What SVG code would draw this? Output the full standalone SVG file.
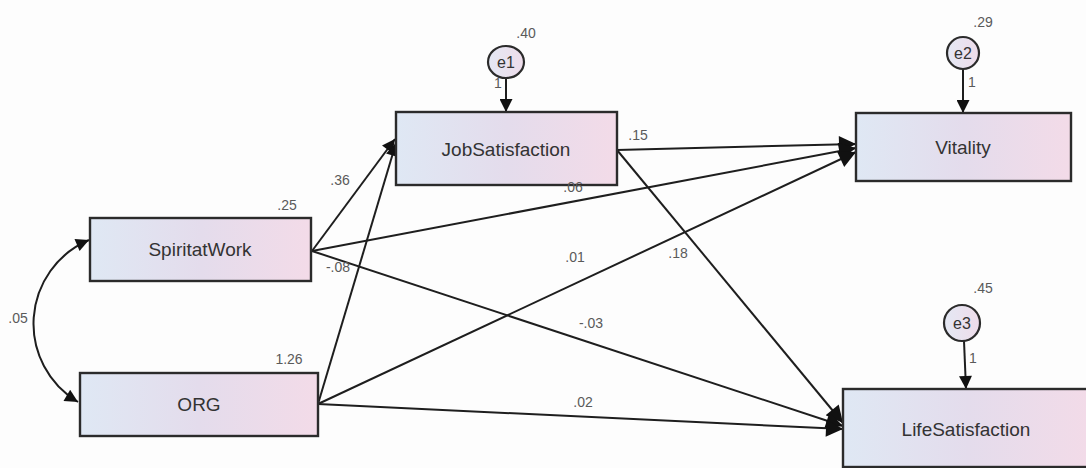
<svg xmlns="http://www.w3.org/2000/svg" width="1086" height="468" viewBox="0 0 1086 468">
  <style>
    .box { stroke: #2b2b2b; stroke-width: 2.4; fill: url(#boxFill); }
    .err { stroke: #2b2b2b; stroke-width: 2.2; fill: url(#errFill); }
    .name { font-family: "Liberation Sans", Arial, sans-serif; font-size: 19px; fill: #333; text-anchor: middle; }
    .ename { font-family: "Liberation Sans", Arial, sans-serif; font-size: 16px; fill: #333; text-anchor: middle; }
    .num { font-family: "Liberation Sans", Arial, sans-serif; font-size: 14px; fill: #5a5a5a; text-anchor: middle; }
    .edge { stroke: #1e1e1e; stroke-width: 2; fill: none; }
    .path { marker-end: url(#head); }
    .small { marker-end: url(#headSmall); }
  </style>
  <defs>
    <linearGradient id="boxFill" x1="0" y1="0" x2="1" y2="0">
      <stop offset="0" stop-color="#dfe8f4"/>
      <stop offset="0.5" stop-color="#e4dcec"/>
      <stop offset="1" stop-color="#f3dbe8"/>
    </linearGradient>
    <linearGradient id="errFill" x1="0" y1="0" x2="1" y2="0">
      <stop offset="0" stop-color="#e4e8f4"/>
      <stop offset="1" stop-color="#eedcea"/>
    </linearGradient>
    <marker id="head" viewBox="0 0 10 10" refX="10" refY="5" markerWidth="24" markerHeight="17" markerUnits="userSpaceOnUse" orient="auto">
      <path d="M0,0 L10,5 L0,10 z" fill="#111"/>
    </marker>
    <marker id="headSmall" viewBox="0 0 10 10" refX="10" refY="5" markerWidth="19" markerHeight="13" markerUnits="userSpaceOnUse" orient="auto-start-reverse">
      <path d="M0,0 L10,5 L0,10 z" fill="#111"/>
    </marker>
  </defs>

  <rect width="1086" height="468" fill="#fdfdfd"/>

  <!-- paths and covariance -->
  <g id="connectors">
    <path class="edge small" d="M89,240 A91,91 0 0 0 78,402" marker-start="url(#headSmall)"/>
    <line class="edge small" x1="312" y1="251" x2="395" y2="139"/>
    <line class="edge small" x1="318" y1="404" x2="396" y2="143"/>
    <line class="edge path" x1="617" y1="150" x2="856" y2="144"/>
    <line class="edge path" x1="312" y1="251" x2="856" y2="148"/>
    <line class="edge path" x1="318" y1="404" x2="856" y2="152"/>
    <line class="edge path" x1="617" y1="150" x2="843" y2="423"/>
    <line class="edge path" x1="312" y1="251" x2="843" y2="426"/>
    <line class="edge path" x1="318" y1="404" x2="843" y2="429"/>
    <line class="edge small" x1="506" y1="78" x2="506" y2="112"/>
    <line class="edge small" x1="963" y1="69" x2="963" y2="113"/>
    <line class="edge small" x1="964" y1="341" x2="966" y2="389"/>
  </g>

  <g id="SpiritatWork">
    <rect class="box" x="90" y="218" width="221" height="63"/>
    <text class="name" x="200" y="256">SpiritatWork</text>
    <text class="num" x="287" y="210">.25</text>
  </g>

  <g id="ORG">
    <rect class="box" x="80" y="373" width="238" height="63"/>
    <text class="name" x="199" y="411">ORG</text>
    <text class="num" x="289" y="364">1.26</text>
  </g>

  <g id="JobSatisfaction">
    <rect class="box" x="396" y="112" width="221" height="73"/>
    <text class="name" x="506" y="156">JobSatisfaction</text>
  </g>

  <g id="Vitality">
    <rect class="box" x="856" y="113" width="215" height="68"/>
    <text class="name" x="963" y="154">Vitality</text>
  </g>

  <g id="LifeSatisfaction">
    <rect class="box" x="843" y="389" width="250" height="78"/>
    <text class="name" x="966" y="436">LifeSatisfaction</text>
  </g>

  <g id="e1">
    <ellipse class="err" cx="506" cy="62" rx="18" ry="16"/>
    <text class="ename" x="506" y="68">e1</text>
    <text class="num" x="526" y="38">.40</text>
    <text class="num" x="498" y="88">1</text>
  </g>

  <g id="e2">
    <ellipse class="err" cx="963" cy="53" rx="16" ry="16"/>
    <text class="ename" x="963" y="59">e2</text>
    <text class="num" x="983" y="27">.29</text>
    <text class="num" x="972" y="87">1</text>
  </g>

  <g id="e3">
    <ellipse class="err" cx="962" cy="323" rx="18" ry="18"/>
    <text class="ename" x="962" y="329">e3</text>
    <text class="num" x="983" y="293">.45</text>
    <text class="num" x="973" y="363">1</text>
  </g>

  <!-- estimates on paths -->
  <g id="estimates">
    <text class="num" x="18" y="323">.05</text>
    <text class="num" x="340" y="185">.36</text>
    <text class="num" x="338" y="272">-.08</text>
    <text class="num" x="638" y="140">.15</text>
    <text class="num" x="573" y="192">.06</text>
    <text class="num" x="575" y="262">.01</text>
    <text class="num" x="678" y="258">.18</text>
    <text class="num" x="591" y="328">-.03</text>
    <text class="num" x="583" y="407">.02</text>
  </g>
</svg>
